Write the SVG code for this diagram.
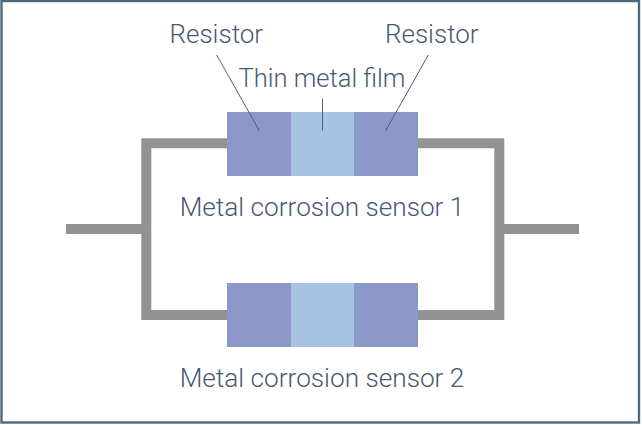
<svg xmlns="http://www.w3.org/2000/svg" width="642" height="425" viewBox="0 0 642 425">
<style>
.lbl{font-family:Roboto,"Liberation Sans",sans-serif;font-weight:300;font-size:26px;fill:#475a72;text-anchor:middle}
.cap{font-size:26.2px}
.film-lbl{font-size:25.5px}
.wire{fill:none;stroke:#929295;stroke-width:10}
.lead{fill:none;stroke:#4d6078;stroke-width:1}
.res{fill:#8c98ca}
.film{fill:#a6c3e2}
</style>
<rect id="frame" x="1.500" y="1" width="637.500" height="421.500" fill="#fff" stroke="#4f687e" stroke-width="2.400"/>
<g id="connectors">
<path class="wire" d="M227 143.300H146.300V315H227"/>
<path class="wire" d="M418 143.300H499.300V315H418"/>
<path class="wire" d="M66 229H146.300"/>
<path class="wire" d="M499.300 229H579"/>
</g>
<g id="sensor1">
<rect class="res" x="227" y="112" width="64" height="64"/>
<rect class="film" x="291" y="112" width="63" height="64"/>
<rect class="res" x="354" y="112" width="64" height="64"/>
<text class="lbl cap" x="322" y="216">Metal corrosion sensor 1</text>
</g>
<g id="sensor2">
<rect class="res" x="227" y="283" width="64" height="64"/>
<rect class="film" x="291" y="283" width="63" height="64"/>
<rect class="res" x="354" y="283" width="64" height="64"/>
<text class="lbl cap" x="322" y="387">Metal corrosion sensor 2</text>
</g>
<g id="label-resistor-left">
<text class="lbl" x="216.300" y="42.500">Resistor</text>
<path class="lead" d="M216.700 55L259.300 130.700"/>
</g>
<g id="label-film">
<text class="lbl film-lbl" x="322" y="87">Thin metal film</text>
<path class="lead" d="M322.500 98.500V130.500"/>
</g>
<g id="label-resistor-right">
<text class="lbl" x="431.800" y="42.500">Resistor</text>
<path class="lead" d="M428.300 55L385.700 130.700"/>
</g>
</svg>
